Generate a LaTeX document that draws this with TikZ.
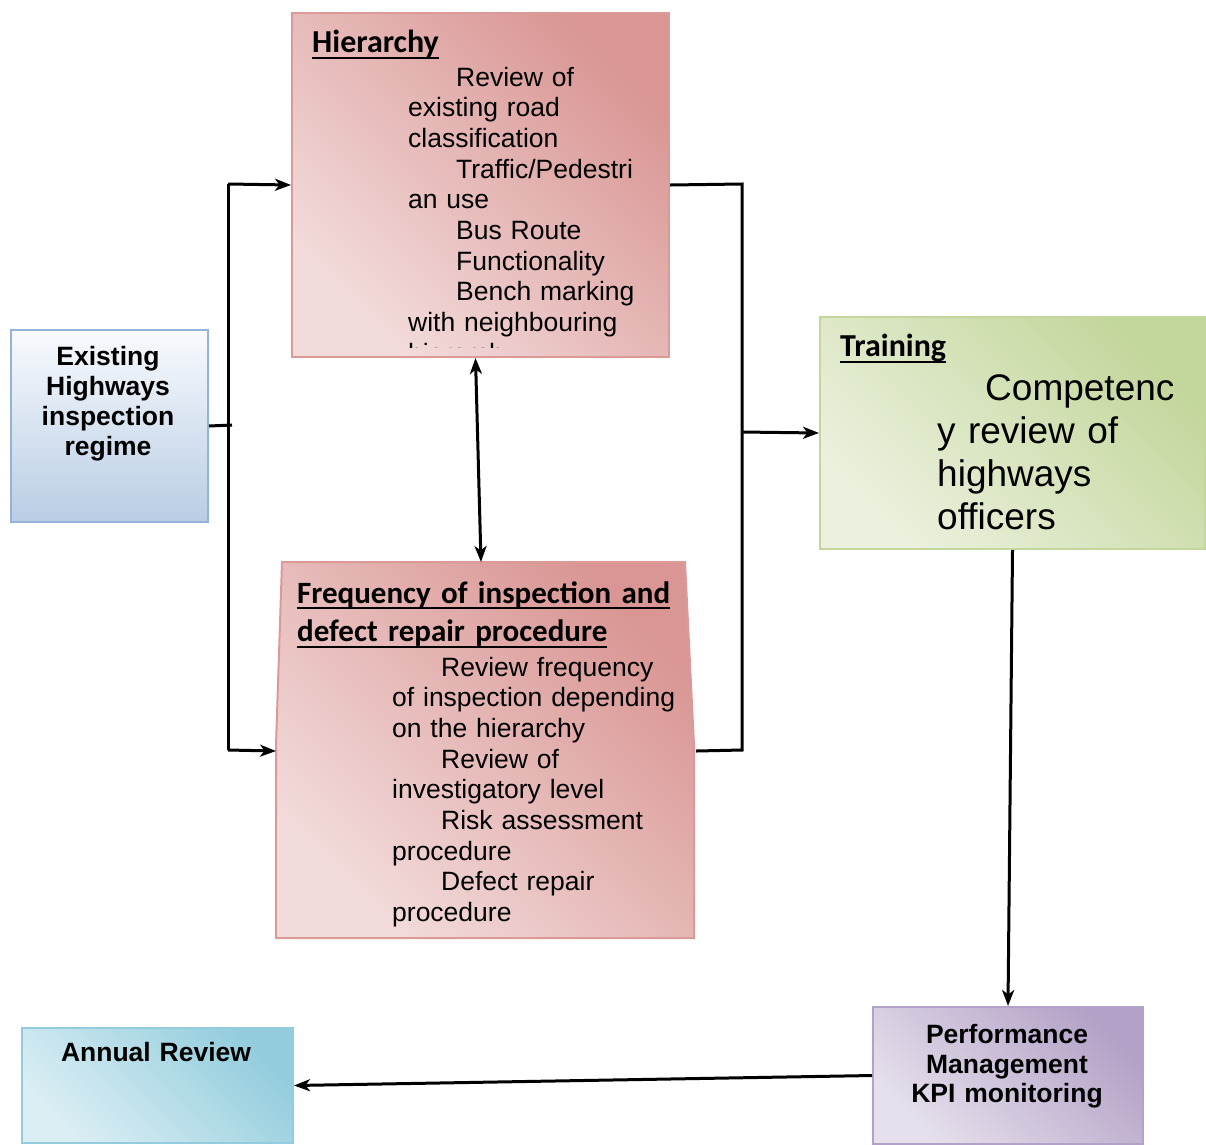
\documentclass[tikz,border=0pt]{standalone}
\usepackage{fontspec}
\setmainfont{Liberation Sans}
\newfontfamily\titlefont{Carlito}
\usetikzlibrary{arrows.meta}
\definecolor{hierL}{HTML}{F2DCDB}
\definecolor{hierD}{HTML}{D99694}
\definecolor{hierB}{HTML}{DB9A98}
\definecolor{exT}{HTML}{F8FAFD}
\definecolor{exB}{HTML}{B9CDE5}
\definecolor{exBd}{HTML}{95B3D7}
\definecolor{trL}{HTML}{EBF1DE}
\definecolor{trD}{HTML}{C3D69B}
\definecolor{pfL}{HTML}{E6E0EC}
\definecolor{pfD}{HTML}{B3A2C7}
\definecolor{anL}{HTML}{DBEEF4}
\definecolor{anD}{HTML}{93CDDD}
\newsavebox\myulbox
\newcommand\myul[1]{\leavevmode\sbox\myulbox{#1}\rlap{\rule[-6pt]{\wd\myulbox}{2pt}}\usebox\myulbox}
\tikzset{
  boxnode/.style={rectangle, line width=2pt, inner sep=0pt, anchor=north west},
  diagshade/.style 2 args={top color=#2, bottom color=#1, shading angle=-45},
  bodytext/.style={anchor=base west, align=left, text width=420pt, inner sep=0pt,
    font=\fontsize{26.5}{30.7}\selectfont},
  titletext/.style={anchor=base west, align=left, text width=420pt, inner sep=0pt,
    font=\titlefont\bfseries\fontsize{32}{38.4}\selectfont},
  boldtext/.style={anchor=base, align=center, text width=260pt, inner sep=0pt,
    font=\bfseries\fontsize{26.5}{30.3}\selectfont},
  conn/.style={line width=3pt, draw=black},
  arr/.style={conn, -{Stealth[length=16pt,width=12pt,inset=4.5pt]}},
  dblarr/.style={conn, {Stealth[length=16pt,width=12pt,inset=4.5pt]}-{Stealth[length=16pt,width=12pt,inset=4.5pt]}}
}
\begin{document}
\begin{tikzpicture}[x=1pt,y=-1pt]
\useasboundingbox (0,0) rectangle (1206,1144);

% boxes
\node[boxnode, draw=exBd, top color=exT, bottom color=exB, minimum width=197pt, minimum height=192pt] (exist) at (10,329) {};
\node[boxnode, draw=hierB, diagshade={hierL}{hierD}, minimum width=377pt, minimum height=344pt] (hier) at (291,12) {};
\path[draw=hierB, line width=2pt, diagshade={hierL}{hierD}] (282,562) -- (685,562) -- (694,745) -- (694,938) -- (276,938) -- (276,745) -- cycle;
\node[boxnode, draw=none, minimum width=418pt, minimum height=376pt] (freq) at (276,562) {};
\node[boxnode, draw=trD, diagshade={trL}{trD}, minimum width=385pt, minimum height=232pt] (train) at (819,316) {};
\node[boxnode, draw=pfD, diagshade={pfL}{pfD}, minimum width=270pt, minimum height=137pt] (perf) at (872,1006) {};
\node[boxnode, draw=anD, diagshade={anL}{anD}, minimum width=271pt, minimum height=115pt] (annual) at (21,1027) {};

% texts
\node[boldtext] (existtxt) at (108,365) {Existing\\Highways\\inspection\\regime};

\node[titletext] (hiertitle) at (312,52.7) {\myul{Hierarchy}};
\begin{scope}
\clip (291,12) rectangle (668,347);
\node[bodytext] (hiertxt) at (408,86) {\hspace*{48pt}Review of\\existing road\\classification\\\hspace*{48pt}Traffic/Pedestri\\an use\\\hspace*{48pt}Bus Route\\\hspace*{48pt}Functionality\\\hspace*{48pt}Bench marking\\with neighbouring\\hierarchy};
\end{scope}

\node[titletext, font=\titlefont\bfseries\fontsize{31}{38.4}\selectfont] (freqtitle) at (297,603.3) {\myul{Frequency of inspection and}\\\myul{defect repair procedure}};
\node[bodytext] (freqtxt) at (392,676) {\hspace*{49pt}Review frequency\\of inspection depending\\on the hierarchy\\\hspace*{49pt}Review of\\investigatory level\\\hspace*{49pt}Risk assessment\\procedure\\\hspace*{49pt}Defect repair\\procedure};

\node[titletext] (traintitle) at (840,356.7) {\myul{Training}};
\node[bodytext, font=\fontsize{37}{43.3}\selectfont] (traintxt) at (937,400) {\hspace*{48pt}Competenc\\y review of\\highways\\officers};

\node[boldtext, font=\bfseries\fontsize{26.5}{29.7}\selectfont] (perftxt) at (1007,1043.3) {Performance\\Management\\KPI monitoring};
\node[boldtext] (annualtxt) at (156,1061.7) {Annual Review};

% connector coordinates
\coordinate (jstub) at (232,425);
\coordinate (jtop) at (228,184);
\coordinate (jbot) at (228,750);
\coordinate (rtop) at (742,184);
\coordinate (rbot) at (742,750);
\coordinate (rmid) at (742,432);

% connectors
\draw[conn] (exist.east) -- (jstub);
\draw[conn] (jtop) -- (jbot);
\draw[arr] (jtop) -- (hier.west);
\draw[arr] (jbot) -- (freq.west);
\draw[conn] (hier.east) -- (rtop) -- (rbot) -- (freq.east);
\draw[arr] (rmid) -- (train.west);
\draw[dblarr] ([xshift=-5pt]hier.south) -- ([xshift=-5pt]freq.north);
\draw[arr] (train.south) -- (perf.north);
\draw[arr] (perf.west) -- (annual.east);
\end{tikzpicture}
\end{document}
